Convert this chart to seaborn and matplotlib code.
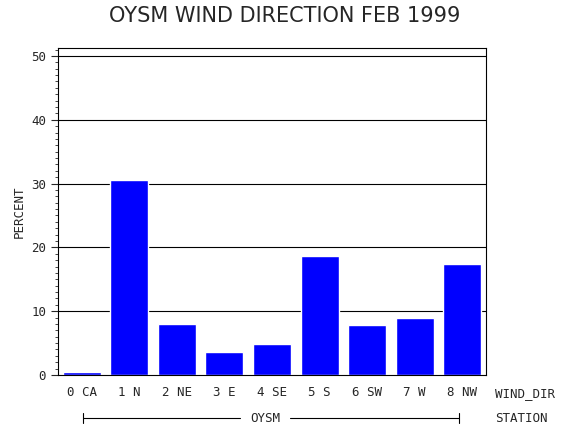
import matplotlib
matplotlib.use("Agg")
import matplotlib.pyplot as plt
import seaborn as sns
import pandas as pd

categories = ["0 CA", "1 N", "2 NE", "3 E", "4 SE", "5 S", "6 SW", "7 W", "8 NW"]
percent = [0.5, 30.5, 8.0, 3.6, 4.9, 18.7, 7.8, 9.0, 17.4]
yticks = [0, 10, 20, 30, 40, 50]

sns.set_style("white")
plt.rcParams['font.family'] = ['DejaVu Sans Mono', 'DejaVu Sans']
fig = plt.figure(figsize=(5.7, 4.3), dpi=100)
ax = fig.add_axes([58/570, 55/430, 428/570, 327/430])
df = pd.DataFrame({"cat": categories, "pct": percent})
sns.barplot(data=df, x="cat", y="pct", color="#0000ff", saturation=1, width=0.8, ax=ax)
ax.set_ylim(0, 51.25)
ax.set_xlim(-0.5, 8.5)
ax.set_yticks(yticks)
ax.set_yticks(range(0, 52), minor=True)
ax.tick_params(axis='y', which='minor', length=2, left=True)
ax.tick_params(axis='y', which='major', length=5, left=True, labelsize=9)
ax.tick_params(axis='x', length=0, labelsize=9, pad=8)
for y in yticks[1:]:
    ax.axhline(y, color='black', lw=0.8, zorder=0)
for s in ax.spines.values():
    s.set_color('black'); s.set_linewidth(0.8)
ax.set_xlabel("")
ax.set_ylabel("PERCENT", fontsize=9)
fig.text(0.5, 0.95, "OYSM WIND DIRECTION FEB 1999", ha='center', fontsize=15, family='DejaVu Sans')
fig.text(495/570, 1-394/430, "WIND_DIR", fontsize=9, va='center')
fig.text(495/570, 1-418/430, "STATION", fontsize=9, va='center')
fig.text(265/570, 1-418/430, "OYSM", fontsize=9, va='center', ha='center')
y = 1-418/430
fig.add_artist(plt.Line2D([83/570, 240/570], [y, y], color='black', lw=0.8))
fig.add_artist(plt.Line2D([290/570, 459/570], [y, y], color='black', lw=0.8))
for x in (83/570, 459/570):
    fig.add_artist(plt.Line2D([x, x], [y-0.012, y+0.012], color='black', lw=0.8))
fig.savefig("out.png", dpi=100)
